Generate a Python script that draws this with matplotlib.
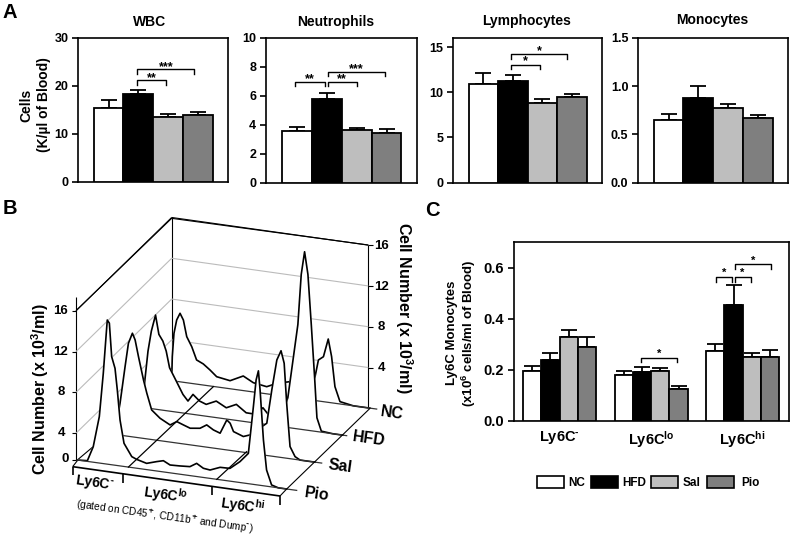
import matplotlib
matplotlib.use('Agg')
import matplotlib.pyplot as plt
from matplotlib.patches import Rectangle

plt.rcParams['font.family'] = ['Liberation Sans', 'DejaVu Sans']
plt.rcParams['font.weight'] = 'bold'
plt.rcParams['mathtext.fontset'] = 'custom'
plt.rcParams['mathtext.rm'] = 'Liberation Sans:bold'
plt.rcParams['mathtext.bf'] = 'Liberation Sans:bold'
plt.rcParams['mathtext.default'] = 'bf'

GROUPS = ['NC', 'HFD', 'Sal', 'Pio']
COLORS = ['white', 'black', '#BEBEBE', '#7F7F7F']

# panel A: mean and top of error bar
WBC = [15.5, 18.4, 13.5, 14.0]
WBC_TOP = [17.0, 19.1, 14.2, 14.6]
NEUT = [3.55, 5.8, 3.6, 3.45]
NEUT_TOP = [3.87, 6.2, 3.78, 3.72]
LYMPH = [10.9, 11.2, 8.8, 9.5]
LYMPH_TOP = [12.15, 11.85, 9.25, 9.85]
MONO = [0.65, 0.88, 0.775, 0.67]
MONO_TOP = [0.71, 1.0, 0.82, 0.705]

# panel C
LY6C_NEG = [0.197, 0.24, 0.328, 0.29]
LY6C_NEG_TOP = [0.217, 0.267, 0.357, 0.327]
LY6C_LO = [0.178, 0.19, 0.197, 0.127]
LY6C_LO_TOP = [0.195, 0.212, 0.206, 0.137]
LY6C_HI = [0.273, 0.452, 0.25, 0.252]
LY6C_HI_TOP = [0.302, 0.532, 0.267, 0.276]

# panel B: position along the Ly6C axis (%) and cell number
PIO_POS = [0, 4.8, 7.6, 10.5, 12.4, 13.7, 14.3, 15.3, 16.4, 18, 19.1, 20.4, 22.3, 26, 28.3, 33.1, 37.9,
           41.1, 44.3, 49, 53.8, 57, 60.2, 63.4, 68.2, 72.9, 77.7, 81.7, 84.1, 85.4, 86.5, 87.3, 88.9,
           90.4, 92.8, 96, 100]
PIO_H = [0, 0.07, 1.52, 4.55, 8.85, 12.48, 14.13, 13.85, 10.6, 9.5, 7.4, 4.5, 2.27, 1.07, 0.87, 0.61, 0.92,
         1.1, 0.77, 0.81, 0.88, 1.29, 0.9, 0.82, 1.22, 1.25, 2.05, 2.97, 7.62, 10.27, 11.2, 9.34, 4.49,
         1.59, 0.19, 0, 0]
SAL_POS = [0, 3, 5.4, 7.8, 9.4, 11.3, 12.6, 14.2, 16.6, 18.2, 20.5, 24.5, 29.3, 32.5, 35.7, 38.9, 43.6,
           46.8, 50, 53.2, 56.4, 58, 59.6, 64.3, 67.5, 75.5, 77.9, 80.3, 82.3, 83.8, 85, 86.6, 89, 91.4, 98.6]
SAL_H = [0, 0.28, 3.13, 6.79, 9.12, 10.16, 9.54, 7.95, 5.73, 4.47, 2.9, 2.2, 1.68, 2.1, 1.86, 1.63, 1.76,
         2.18, 1.78, 1.55, 2.94, 2.66, 1.89, 1.54, 1.79, 3.16, 6.5, 9.5, 10.46, 9.28, 5.39, 1.19, 0.27, 0, 0]
HFD_POS = [0, 1.3, 3.7, 5.3, 7.3, 8.9, 10.8, 12.4, 14, 17.2, 20.4, 22.8, 25.2, 28.3, 31.5, 36.3, 41.1,
           45.9, 50.6, 55.4, 58.6, 61.8, 66.6, 70.5, 72.9, 75.3, 76.9, 78.5, 80.1, 81.7, 83.3, 84.4, 86.5,
           92, 96.8]
HFD_H = [0, 0.95, 5.59, 7.6, 9.23, 7.38, 6.78, 5.84, 4.25, 3.04, 1.82, 1.24, 1.96, 1.4, 1.16, 1.62, 1.1,
         1.57, 0.88, 0.86, 1.6, 0.87, 0.52, 2.92, 6.58, 10.24, 15.19, 17.46, 15.28, 10.42, 5.24, 1.35, 0.1,
         0, 0]
NC_POS = [0, 0.3, 1.1, 2.4, 4, 5.6, 7.2, 9.6, 11.9, 15.1, 18.3, 21.5, 27.9, 34.2, 39, 45.4, 50.2, 56.5,
          58.9, 64.5, 68.5, 70.1, 72.5, 74.8, 76.4, 78, 80.4, 86.8, 94.7]
NC_H = [0, 2.36, 4.67, 6.02, 6.72, 6.1, 4.52, 3.6, 2.37, 2.07, 1.57, 1.0, 0.79, 1.43, 0.91, 0.7, 1.16, 1.51,
        0.43, 0.26, 2.34, 4.02, 4.41, 6.21, 4.53, 1.63, 0.23, 0, 0]
DEPTHS = [1.0, 0.667, 0.333, 0.0]
WALL_TICKS = [4, 8, 12, 16]
GATES = [24.4, 66.6]

# brackets: x1, x2, y, drop, stars
WBC_BR = [(0.97, 1.93, 21.15, 0.85, '**'), (0.97, 2.89, 23.5, 0.9, '***')]
NEUT_BR = [(-0.05, 0.93, 6.97, 0.3, '**'), (1.03, 2.0, 6.97, 0.3, '**'), (1.03, 2.95, 7.66, 0.3, '***')]
LYMPH_BR = [(0.95, 1.91, 13.0, 0.48, '*'), (0.95, 2.83, 14.2, 0.48, '*')]
LY6C_BR = [(5.97, 7.92, 0.248, 0.018, '*'), (10.03, 10.9, 0.565, 0.02, '*'),
           (11.06, 11.94, 0.565, 0.02, '*'), (11.06, 13.05, 0.614, 0.02, '*')]


def add_axes_px(fig, left, top, right, bottom):
    return fig.add_axes([left / 794, 1 - bottom / 540, (right - left) / 794, (bottom - top) / 540])


def draw_bars(ax, x, values, tops, capsize):
    for xi, val, top, col in zip(x, values, tops, COLORS):
        ax.errorbar(xi, val, yerr=[[0], [top - val]], color='black', lw=1.3, capsize=capsize,
                    capthick=1.3, zorder=2)
        ax.bar(xi, val, width=1, color=col, edgecolor='black', lw=1.3, zorder=3)


def draw_brackets(ax, brackets, star_gap, size=9):
    for x1, x2, y, drop, stars in brackets:
        ax.plot([x1, x1, x2, x2], [y - drop, y, y, y - drop], color='black', lw=1.0, zorder=4)
        ax.text((x1 + x2) / 2, y + star_gap, stars, ha='center', va='center', fontsize=size, zorder=4)


def style_axes(ax, ymax, yticks, labels):
    ax.set_ylim(0, ymax)
    ax.set_yticks(yticks)
    ax.set_yticklabels(labels)
    ax.tick_params(axis='y', length=4, width=1.2, labelsize=9, pad=3)
    ax.tick_params(axis='x', length=0)
    ax.set_xticks([])
    for sp in ax.spines.values():
        sp.set_linewidth(1.2)


def small_panel(fig, box, title, title_xy, values, tops, ymax, yticks, labels, brackets=None, star_gap=0):
    ax = add_axes_px(fig, *box)
    ax.set_xlim(-1.03, 4.02)
    draw_bars(ax, range(4), values, tops, 6)
    style_axes(ax, ymax, yticks, labels)
    if brackets:
        draw_brackets(ax, brackets, star_gap)
    fig.text(title_xy[0] / 794, 1 - title_xy[1] / 540, title, ha='center', va='center', fontsize=10)
    return ax


def z2px(zx, zy):
    # zoomed sketch units of panel B to figure pixels
    return zx / 3, zy / 3 + 190


def project(pos, depth, h=0.0):
    zx = 232 + 283 * depth + 6.28 * pos
    zy = 810 - 238 * depth + 0.1385 * 6.28 * pos - 30.6 * h
    return z2px(zx, zy)


def line_z(ov, xs, ys, color='black', lw=0.8, zorder=1):
    px = [z2px(a, b) for a, b in zip(xs, ys)]
    ov.plot([p[0] for p in px], [p[1] for p in px], color=color, lw=lw, zorder=zorder,
            solid_capstyle='butt')


def draw_ridges(ov):
    # walls
    line_z(ov, [228, 515, 1105], [362, 85, 165])
    line_z(ov, [228, 228], [322, 810])
    line_z(ov, [515, 515], [85, 572])
    line_z(ov, [1105, 1105], [165, 655])
    for h in WALL_TICKS:
        col = 'black' if h == 16 else '#BBBBBB'
        line_z(ov, [228, 515], [852 - 30.6 * h, 572 - 30.6 * h], color=col, lw=0.8)
        line_z(ov, [515, 1105], [572 - 30.6 * h, 655 - 30.6 * h], color=col, lw=0.8)
        line_z(ov, [215, 228], [852 - 30.6 * h, 852 - 30.6 * h])
        line_z(ov, [1105, 1118], [655 - 30.6 * h, 655 - 30.6 * h])
        x, y = z2px(183, 852 - 30.6 * h)
        ov.text(x, y, str(h), ha='center', va='center', fontsize=9.5)
        x, y = z2px(1145, 655 - 30.6 * h + 2)
        ov.text(x, y, str(h), ha='center', va='center', fontsize=9.5)
    line_z(ov, [215, 228], [810, 810])
    x, y = z2px(197, 808)
    ov.text(x, y, '0', ha='center', va='center', fontsize=9.5)
    # floor and curves, back to front
    series = [(NC_POS, NC_H), (HFD_POS, HFD_H), (SAL_POS, SAL_H), (PIO_POS, PIO_H)]
    ends = [1130, 1040, 965, 890]
    for i, ((pos, h), depth) in enumerate(zip(series, DEPTHS)):
        z = 2 + i * 2
        pts = [project(p, depth, v) for p, v in zip(pos, h)]
        xs = [p[0] for p in pts]
        ys = [p[1] for p in pts]
        ov.fill(xs, ys, color='white', zorder=z)
        ov.plot(xs, ys, color='black', lw=1.2, zorder=z + 1, solid_joinstyle='round')
        p0 = project(0, depth)
        p1 = project((ends[i] - (232 + 283 * depth)) / 6.28, depth)
        ov.plot([p0[0], p1[0]], [p0[1], p1[1]], color='#333333', lw=0.9, zorder=z + 1)
    # left floor edge and right floor edge
    line_z(ov, [232, 515], [810, 572], zorder=1)
    line_z(ov, [860, 1110], [897, 655], zorder=10)
    # gate lines
    a = project(GATES[0], 0)
    b = z2px(640, 590)
    ov.plot([a[0], b[0]], [a[1], b[1]], color='black', lw=0.9, zorder=10)
    a = project(GATES[1], 0)
    b = z2px(740, 785)
    ov.plot([a[0], b[0]], [a[1], b[1]], color='black', lw=0.9, zorder=10)
    # front axis with gate ticks
    line_z(ov, [218, 840], [830, 918], lw=1.2, zorder=10)
    line_z(ov, [218, 232], [830, 812], zorder=10)
    line_z(ov, [840, 860], [918, 897], zorder=10)
    for zx in [218, 370, 635, 840]:
        zy = 830 + (zx - 218) * 88 / 622
        line_z(ov, [zx, zx], [zy, zy + 26], lw=1.2, zorder=10)
    labels = [(283, 880, r'Ly6C$^{\text{-}}$'), (497, 915, r'Ly6C$^{lo}$'), (728, 948, r'Ly6C$^{hi}$')]
    for zx, zy, s in labels:
        x, y = z2px(zx, zy)
        ov.text(x, y, s, ha='center', va='center', rotation=-8, fontsize=10, zorder=11)
    x, y = z2px(495, 980)
    ov.text(x, y, r'(gated on CD45$^{+}$, CD11b$^{+}$ and Dump$^{\text{-}}$)', ha='center', va='center', rotation=-8,
            fontsize=7.3, fontweight='normal', math_fontfamily='dejavusans', zorder=11)
    for zx, zy, s in [(1177, 670, 'NC'), (1108, 748, 'HFD'), (1020, 830, 'Sal'), (950, 912, 'Pio')]:
        x, y = z2px(zx, zy)
        ov.text(x, y, s, ha='center', va='center', rotation=-8, fontsize=11.5, zorder=11)
    x, y = z2px(120, 598)
    ov.text(x, y, r'Cell Number (x 10$^{3}$/ml)', ha='center', va='center', rotation=90, fontsize=11.5)
    x, y = z2px(1213, 352)
    ov.text(x, y, r'Cell Number (x 10$^{3}$/ml)', ha='center', va='center', rotation=-90, fontsize=11.5)


fig = plt.figure(figsize=(7.94, 5.40), dpi=100)

ov = fig.add_axes([0, 0, 1, 1], zorder=5)
ov.set_xlim(0, 794)
ov.set_ylim(540, 0)
ov.axis('off')
ov.patch.set_alpha(0)

ax = small_panel(fig, (78, 38, 228, 182), 'WBC', (150, 22), WBC, WBC_TOP, 30, [0, 10, 20, 30],
                 ['0', '10', '20', '30'], WBC_BR, 0.5)
small_panel(fig, (266, 38, 417, 182.5), 'Neutrophils', (336, 22), NEUT, NEUT_TOP, 10, [0, 2, 4, 6, 8, 10],
            ['0', '2', '4', '6', '8', '10'], NEUT_BR, 0.18)
small_panel(fig, (453, 38, 602, 182.5), 'Lymphocytes', (527, 21), LYMPH, LYMPH_TOP, 16, [0, 5, 10, 15],
            ['0', '5', '10', '15'], LYMPH_BR, 0.38)
small_panel(fig, (638, 38, 788, 182.5), 'Monocytes', (712, 20), MONO, MONO_TOP, 1.5, [0, 0.5, 1.0, 1.5],
            ['0.0', '0.5', '1.0', '1.5'])
ov.text(35, 105, 'Cells\n(K/\u00b5l of Blood)', ha='center', va='center', rotation=90, fontsize=10,
        linespacing=1.3)

axc = add_axes_px(fig, 514, 242, 789, 421)
axc.set_xlim(-0.99, 14.03)
for g, (vals, tops) in enumerate([(LY6C_NEG, LY6C_NEG_TOP), (LY6C_LO, LY6C_LO_TOP), (LY6C_HI, LY6C_HI_TOP)]):
    draw_bars(axc, [5 * g + b for b in range(4)], vals, tops, 5.5)
style_axes(axc, 0.7, [0, 0.2, 0.4, 0.6], ['0.0', '0.2', '0.4', '0.6'])
axc.tick_params(axis='y', labelsize=10.5)
axc.set_xticks([1.5, 6.5, 11.5])
axc.set_xticklabels([r'Ly6C$^{\text{-}}$', r'Ly6C$^{lo}$', r'Ly6C$^{hi}$'], fontsize=10.5)
axc.tick_params(axis='x', length=0, pad=6)
draw_brackets(axc, LY6C_BR, 0.014, 8)
ov.text(462, 333, 'Ly6C Monocytes\n' + r'(x10$^{6}$ cells/ml of Blood)', ha='center', va='center', rotation=90,
        fontsize=9.5, linespacing=1.15)

# legend boxes
for zx, zt, name, col in zip([352, 512, 694, 862], [445, 607, 788, 965], GROUPS, COLORS):
    x, y = z2px(zx + 420 * 3, 857)
    ov.add_patch(Rectangle((x, y), 27, 12, facecolor=col, edgecolor='black', lw=1.2))
    tx, ty = z2px(zt + 420 * 3, 880)
    ov.text(tx, ty, name, ha='left', va='center', fontsize=8.5)

ov.text(10, 12, 'A', ha='center', va='center', fontsize=14.5)
ov.text(10, 208, 'B', ha='center', va='center', fontsize=14.5)
ov.text(432, 210, 'C', ha='center', va='center', fontsize=14.5)

draw_ridges(ov)

fig.savefig('out.png', dpi=100, facecolor='white')
